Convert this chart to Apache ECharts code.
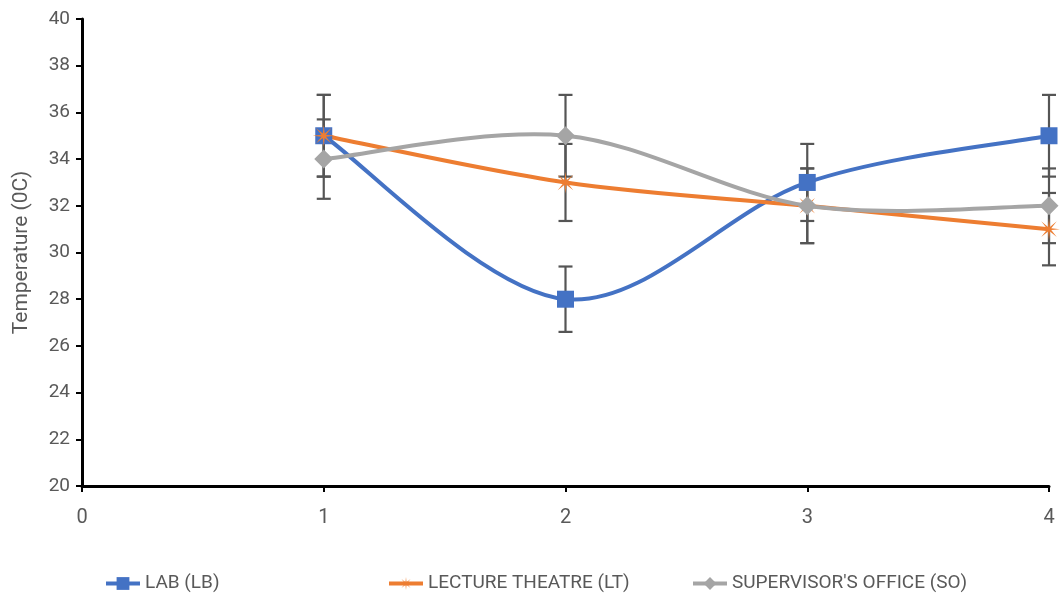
<!DOCTYPE html>
<html><head><meta charset="utf-8">
<script src="https://cdn.jsdelivr.net/npm/echarts@6/dist/echarts.min.js"></script>
<style>html,body{margin:0;padding:0;background:#fff}#c{width:1061px;height:606px}</style>
</head><body><div id="c"></div>
<script>
const xValues = [1, 2, 3, 4];
const labValues = [35, 28, 33, 35];
const lectureValues = [35, 33, 32, 31];
const officeValues = [34, 35, 32, 32];
const labErr = [1.75, 1.4, 1.65, 1.75];
const lectureErr = [1.75, 1.65, 1.6, 1.55];
const officeErr = [1.7, 1.75, 1.6, 1.6];
const seriesNames = ['LAB (LB)', 'LECTURE THEATRE (LT)', "SUPERVISOR'S OFFICE (SO)"];
const colors = ['#4472C4', '#ED7D31', '#A5A5A5'];

function starPath() {
  let pts = [];
  const n = 8;
  for (let i = 0; i < n * 2; i++) {
    const a = Math.PI * i / n - Math.PI / 2;
    const r = i % 2 === 0 ? 10 : 2.2;
    pts.push((10 + r * Math.cos(a)).toFixed(2) + ' ' + (10 + r * Math.sin(a)).toFixed(2));
  }
  return 'path://M' + pts.join(' L') + ' Z';
}
const STAR = starPath();

const chart = echarts.init(document.getElementById('c'));
function pairs(vals) { return xValues.map((x, i) => [x, vals[i]]); }
function errData(vals, errs) { return xValues.map((x, i) => [x, vals[i] - errs[i], vals[i] + errs[i]]); }

function errSeries(vals, errs) {
  return {
    type: 'custom', z: 1, silent: true,
    data: errData(vals, errs),
    renderItem: function (params, api) {
      const x = api.value(0);
      const lo = api.coord([x, api.value(1)]);
      const hi = api.coord([x, api.value(2)]);
      const w = 7;
      const st = { stroke: '#555555', lineWidth: 2.2 };
      return { type: 'group', children: [
        { type: 'line', shape: { x1: lo[0], y1: lo[1], x2: hi[0], y2: hi[1] }, style: st },
        { type: 'line', shape: { x1: lo[0] - w, y1: lo[1], x2: lo[0] + w, y2: lo[1] }, style: st },
        { type: 'line', shape: { x1: hi[0] - w, y1: hi[1], x2: hi[0] + w, y2: hi[1] }, style: st }
      ]};
    }
  };
}

function curveSeries(vals, color) {
  const n = xValues.length;
  return {
    type: 'custom', z: 2, silent: true,
    data: pairs(vals).slice(0, n - 1),
    renderItem: function (params, api) {
      const i = params.dataIndex;
      const P = j => api.coord([xValues[Math.max(0, Math.min(n - 1, j))], vals[Math.max(0, Math.min(n - 1, j))]]);
      const p0 = P(i - 1), p1 = P(i), p2 = P(i + 1), p3 = P(i + 2);
      const t = 1 / 6;
      const c1 = [p1[0] + (p2[0] - p0[0]) * t, p1[1] + (p2[1] - p0[1]) * t];
      const c2 = [p2[0] - (p3[0] - p1[0]) * t, p2[1] - (p3[1] - p1[1]) * t];
      return {
        type: 'bezierCurve',
        shape: { x1: p1[0], y1: p1[1], x2: p2[0], y2: p2[1], cpx1: c1[0], cpy1: c1[1], cpx2: c2[0], cpy2: c2[1] },
        style: { stroke: color, lineWidth: 4, fill: null, lineCap: 'round' }
      };
    }
  };
}

function markerSeries(name, vals, color, symbol, size) {
  return {
    name: name, type: 'line', z: 3,
    data: pairs(vals),
    symbol: symbol, symbolSize: size, showSymbol: true,
    lineStyle: { color: color, width: 4, opacity: 0 },
    itemStyle: { color: color },
    emphasis: { disabled: true }
  };
}

const legendCommon = {
  bottom: 8, itemWidth: 34, itemHeight: 16, itemGap: 4,
  textStyle: { color: '#595959', fontSize: 19, fontFamily: 'Roboto' },
  selectedMode: false
};
function legendItem(i) {
  return { name: seriesNames[i], lineStyle: { color: colors[i], width: 4, opacity: 1 } };
}

chart.setOption({
  animation: false,
  grid: { left: 82, right: 12, top: 19, bottom: 120 },
  legend: [
    Object.assign({ left: 99, data: [legendItem(0)] }, legendCommon),
    Object.assign({ left: 382, data: [legendItem(1)] }, legendCommon),
    Object.assign({ left: 686, data: [legendItem(2)] }, legendCommon)
  ],
  xAxis: {
    type: 'value', min: 0, max: 4, interval: 1,
    axisLine: { lineStyle: { color: '#000', width: 3 } },
    axisTick: { show: true, length: 6, lineStyle: { color: '#000', width: 2 } },
    axisLabel: { color: '#595959', fontSize: 20, fontFamily: 'Roboto', margin: 22 },
    splitLine: { show: false }
  },
  yAxis: {
    type: 'value', min: 20, max: 40, interval: 2,
    name: 'Temperature (0C)', nameLocation: 'middle', nameGap: 50,
    nameTextStyle: { color: '#595959', fontSize: 21, fontFamily: 'Roboto' },
    axisLine: { show: true, lineStyle: { color: '#000', width: 3 } },
    axisTick: { show: true, length: 6, lineStyle: { color: '#000', width: 2 } },
    axisLabel: { color: '#595959', fontSize: 19, fontFamily: 'Roboto', margin: 12 },
    splitLine: { show: false }
  },
  series: [
    errSeries(labValues, labErr),
    errSeries(lectureValues, lectureErr),
    errSeries(officeValues, officeErr),
    curveSeries(labValues, colors[0]),
    curveSeries(lectureValues, colors[1]),
    curveSeries(officeValues, colors[2]),
    markerSeries(seriesNames[0], labValues, colors[0], 'rect', 17),
    markerSeries(seriesNames[1], lectureValues, colors[1], STAR, 22),
    markerSeries(seriesNames[2], officeValues, colors[2], 'diamond', 19)
  ]
});
</script></body></html>
